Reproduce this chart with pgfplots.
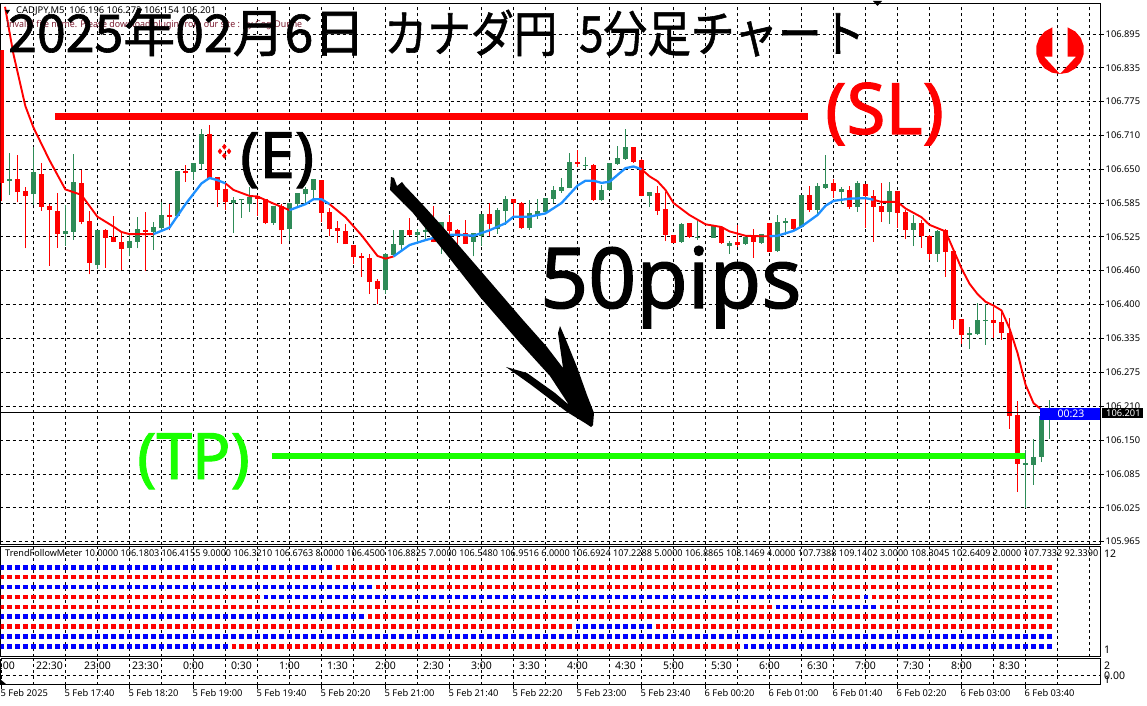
\documentclass[border=0pt]{standalone}
\usepackage{fontspec}
\setmainfont{Noto Sans}
\newfontfamily\cjk[FakeBold=1.2]{Noto Sans CJK JP}
\newfontfamily\bigf[FakeBold=1.5]{Noto Sans}
\usepackage{pgfplots}
\usepackage{pgfplotstable}
\pgfplotsset{compat=1.18}
\definecolor{mtgreen}{HTML}{2E8B57}
\definecolor{mablue}{HTML}{1E90FF}
\definecolor{tpgreen}{HTML}{19FF00}
\newcommand{\sm}{\fontsize{9.3}{11}\selectfont}
\newcommand{\md}{\fontsize{10.5}{12}\selectfont}
\pgfplotstableread{
n o h l c
0 106.866 106.866 106.589 106.621
2 106.629 106.673 106.586 106.605
3 106.607 106.615 106.502 106.598
5 106.638 106.658 106.571 106.578
6 106.579 106.583 106.470 106.573
7 106.570 106.603 106.503 106.529
10 106.622 106.645 106.546 106.551
11 106.552 106.570 106.454 106.475
13 106.535 106.537 106.466 106.521
14 106.523 106.561 106.513 106.514
15 106.513 106.532 106.463 106.501
18 106.535 106.568 106.460 106.532
21 106.563 106.583 106.535 106.560
23 106.644 106.655 106.624 106.641
26 106.711 106.728 106.629 106.631
27 106.633 106.633 106.578 106.609
28 106.611 106.621 106.573 106.587
32 106.598 106.600 106.561 106.592
33 106.592 106.592 106.546 106.548
35 106.579 106.584 106.510 106.535
40 106.627 106.627 106.551 106.567
41 106.568 106.575 106.524 106.537
42 106.539 106.552 106.512 106.534
43 106.534 106.546 106.509 106.509
44 106.508 106.508 106.474 106.486
45 106.488 106.494 106.450 106.484
46 106.484 106.491 106.418 106.440
47 106.442 106.446 106.400 106.427
51 106.536 106.558 106.525 106.527
54 106.519 106.580 106.513 106.514
56 106.551 106.563 106.519 106.534
57 106.536 106.537 106.504 106.529
58 106.530 106.554 106.510 106.510
61 106.565 106.585 106.524 106.547
64 106.593 106.593 106.560 106.585
65 106.585 106.587 106.537 106.539
72 106.661 106.683 106.651 106.657
74 106.655 106.657 106.589 106.591
79 106.688 106.688 106.659 106.661
80 106.664 106.666 106.597 106.598
82 106.604 106.617 106.563 106.571
83 106.574 106.606 106.515 106.527
84 106.527 106.527 106.512 106.512
86 106.549 106.549 106.520 106.523
90 106.541 106.543 106.510 106.512
92 106.514 106.545 106.505 106.508
94 106.527 106.538 106.485 106.514
96 106.549 106.549 106.496 106.496
99 106.556 106.556 106.536 106.537
101 106.600 106.616 106.569 106.572
104 106.622 106.630 106.594 106.607
106 106.609 106.616 106.574 106.578
108 106.620 106.620 106.539 106.598
109 106.598 106.609 106.514 106.578
110 106.580 106.622 106.550 106.569
112 106.607 106.607 106.540 106.567
113 106.569 106.572 106.519 106.536
115 106.549 106.554 106.503 106.525
116 106.525 106.526 106.481 106.492
118 106.536 106.537 106.450 106.496
119 106.497 106.497 106.354 106.371
120 106.372 106.372 106.327 106.343
124 106.371 106.395 106.338 106.365
125 106.367 106.388 106.334 106.347
126 106.347 106.374 106.171 106.195
127 106.197 106.222 106.055 106.107
}\redtab
\pgfplotstableread{
n o h l c
1 106.626 106.676 106.600 106.629
4 106.601 106.688 106.581 106.642
8 106.529 106.581 106.507 106.534
9 106.532 106.675 106.518 106.623
12 106.471 106.535 106.464 106.535
16 106.502 106.529 106.487 106.515
17 106.514 106.559 106.502 106.537
19 106.532 106.550 106.499 106.541
20 106.539 106.587 106.535 106.563
22 106.562 106.644 106.560 106.644
24 106.642 106.658 106.628 106.658
25 106.657 106.720 106.647 106.711
29 106.585 106.596 106.530 106.590
30 106.590 106.593 106.558 106.592
31 106.583 106.615 106.569 106.596
34 106.548 106.579 106.545 106.579
36 106.537 106.585 106.516 106.585
37 106.583 106.603 106.580 106.603
38 106.601 106.615 106.583 106.611
39 106.609 106.630 106.590 106.629
48 106.425 106.493 106.419 106.491
49 106.490 106.535 106.487 106.510
50 106.508 106.536 106.496 106.536
52 106.527 106.538 106.511 106.532
53 106.532 106.542 106.516 106.536
55 106.513 106.551 106.492 106.551
59 106.514 106.530 106.487 106.530
60 106.525 106.565 106.507 106.565
62 106.538 106.575 106.529 106.573
63 106.571 106.598 106.545 106.593
66 106.540 106.591 106.536 106.567
67 106.563 106.593 106.556 106.571
68 106.569 106.595 106.567 106.595
69 106.593 106.617 106.585 106.609
70 106.608 106.631 106.604 106.615
71 106.613 106.677 106.612 106.661
73 106.653 106.670 106.647 106.655
75 106.590 106.619 106.588 106.609
76 106.609 106.659 106.608 106.659
77 106.657 106.689 106.655 106.668
78 106.666 106.721 106.664 106.688
81 106.598 106.606 106.577 106.606
85 106.514 106.548 106.512 106.547
87 106.520 106.552 106.518 106.523
89 106.521 106.545 106.521 106.543
91 106.507 106.516 106.492 106.512
93 106.510 106.527 106.508 106.523
95 106.512 106.529 106.510 106.529
97 106.497 106.563 106.496 106.550
98 106.549 106.557 106.526 106.552
100 106.541 106.600 106.539 106.600
102 106.572 106.621 106.563 106.616
103 106.613 106.673 106.611 106.620
105 106.605 106.614 106.583 106.610
107 106.578 106.625 106.569 106.622
111 106.569 106.623 106.547 106.607
114 106.536 106.563 106.506 106.549
117 106.492 106.536 106.477 106.534
121 106.343 106.358 106.317 106.347
122 106.345 106.401 106.343 106.371
123 106.369 106.400 106.325 106.371
128 106.105 106.132 106.025 106.109
129 106.105 106.153 106.068 106.120
130 106.120 106.195 106.110 106.195
131 106.196 106.224 106.153 106.201
}\greentab
\pgfplotstableread{
n v t
0 18.5 22:00
6 18.5 22:30
12 18.5 23:00
18 18.5 23:30
24 18.5 0:00
30 18.5 0:30
36 18.5 1:00
42 18.5 1:30
48 18.5 2:00
54 18.5 2:30
60 18.5 3:00
66 18.5 3:30
72 18.5 4:00
78 18.5 4:30
84 18.5 5:00
90 18.5 5:30
96 18.5 6:00
102 18.5 6:30
108 18.5 7:00
114 18.5 7:30
120 18.5 8:00
126 18.5 8:30
}\hourtab
\pgfplotsset{mtgrid/.style={
  grid style={black,line width=1pt,dash pattern=on 3pt off 3pt},
  axis line style={black,line width=1pt},
  xmin=-0.125,xmax=137.375,
  scale only axis,width=1100pt,anchor=south west,
}}
\newcommand{\wicks}[2]{%
  \addplot[draw=none,mark=none,forget plot,error bars/.cd,y dir=plus,y explicit,error mark=none,
    error bar style={#2,line width=1pt}]
    table[x=n,y=l,y error plus expr=\thisrow{h}-\thisrow{l}]{#1};}
\begin{document}
\begin{tikzpicture}
\path[use as bounding box,fill=white] (0,0) rectangle (1147pt,705pt);
% main price panel
\begin{axis}[mtgrid,at={(0.5pt,160.5pt)},height=541pt,
  ymin=105.9587,ymax=106.9510,
  xtick={4,8,...,136},xticklabels={},
  ytick={106.895,106.833,106.771,106.709,106.647,106.585,106.523,106.461,106.399,106.337,106.275,106.212,106.150,106.088,106.026,105.964},
  yticklabels={106.895,106.835,106.775,106.710,106.650,106.585,106.525,106.460,106.400,106.335,106.275,106.210,106.150,106.085,106.025,105.965},
  grid=major,mtgrid,
  yticklabel pos=right,tick align=outside,
  major tick length=3pt,
  major x tick style={draw=none},
  y tick style={black,line width=1pt},
  yticklabel style={font=\sm,inner sep=0pt,xshift=2pt},
]
\wicks{\redtab}{red}
\wicks{\greentab}{mtgreen}
\addplot[draw=none,mark=none,forget plot,error bars/.cd,y dir=plus,y explicit,error mark=none,
  error bar style={red,line width=5pt}]
  table[x=n,y=c,y error plus expr=\thisrow{o}-\thisrow{c}]{\redtab};
\addplot[draw=none,mark=none,forget plot,error bars/.cd,y dir=plus,y explicit,error mark=none,
  error bar style={mtgreen,line width=5pt}]
  table[x=n,y=o,y error plus expr=\thisrow{c}-\thisrow{o}]{\greentab};
% moving average, red while falling, blue while rising
\addplot[red,line width=1.9pt,unbounded coords=jump] coordinates {
(0.44,106.945)(1.48,106.859)(2.98,106.763)(3.98,106.724)(5.98,106.664)(7.98,106.610)(9.98,106.600)(11.98,106.560)(13.98,106.542)(14.98,106.532)(15.98,106.528)(19,106.528)(19,nan)
(28,106.621)(29,106.609)(31,106.598)(32,106.597)(34,106.584)(36,106.572)(36,nan)
(41,106.583)(43,106.559)(45,106.526)(47,106.488)(48,106.483)(49,106.487)(49,nan)
(80,106.647)(81,106.634)(82,106.625)(83,106.609)(84,106.585)(86,106.563)(88,106.546)(90,106.541)(91,106.533)(93,106.525)(95,106.524)(96,106.524)(96,nan)
(109,106.591)(110,106.587)(112,106.587)(113,106.575)(115,106.559)(116,106.545)(118,106.533)(119,106.499)(120,106.465)(121,106.437)(122,106.418)(123,106.404)(124,106.397)(125,106.388)(126,106.355)(127,106.310)(128,106.252)(129,106.218)(130,106.206)
};
\addplot[mablue,line width=2.3pt,unbounded coords=jump] coordinates {
(19,106.528)(21,106.540)(23,106.583)(25,106.621)(26,106.631)(27,106.627)(28,106.621)(28,nan)
(36,106.572)(38,106.583)(39,106.592)(40,106.592)(41,106.583)(41,nan)
(49,106.487)(51,106.508)(53,106.517)(54,106.521)(55,106.526)(57,106.527)(59,106.525)(61,106.535)(63,106.548)(64,106.560)(66,106.560)(68,106.566)(70,106.585)(72,106.617)(73,106.626)(74,106.626)(75,106.622)(76,106.624)(78,106.649)(79,106.652)(80,106.647)(80,nan)
(96,106.524)(97,106.525)(99,106.534)(100,106.542)(102,106.563)(103,106.580)(104,106.589)(106,106.593)(108,106.594)(109,106.591)
};
% current bid line
\addplot[black,line width=1pt] coordinates {(-0.125,106.201)(137.375,106.201)};
% stop loss and take profit lines
\addplot[red,line width=7pt] coordinates {(6.69,106.7446)(100.8,106.7446)};
\addplot[tpgreen,line width=6.5pt] coordinates {(33.8,106.121)(127.9,106.121)};
% entry marker
\addplot[only marks,mark=diamond*,mark size=2.6pt,red] coordinates {(27.85,106.6883)(27.31,106.6799)(28.44,106.6799)(27.85,106.6718)};
\end{axis}
% indicator panel
\begin{axis}[mtgrid,at={(0.5pt,48.5pt)},height=110pt,
  ymin=0.967,ymax=12.106,
  xtick={4,8,...,136},xticklabels={},ytick=\empty,
  xmajorgrids,major x tick style={draw=none},
  unbounded coords=jump,
]
\addplot[red,line width=4.5pt,dash pattern=on 4.5pt off 3.5pt,dash phase=0.25pt] coordinates {
(41.75,10)(131.3125,10)(0,nan)
(-0.25,9)(131.3125,9)(0,nan)
(46.75,8)(131.3125,8)(0,nan)
(-0.25,7)(32.3125,7)(0,nan)(103.75,7)(107.3125,7)(0,nan)(108.75,7)(131.3125,7)(0,nan)
(-0.25,6)(96.3125,6)(0,nan)(109.75,6)(131.3125,6)(0,nan)
(45.75,5)(131.3125,5)(0,nan)
(-0.25,4)(71.3125,4)(0,nan)(81.75,4)(131.3125,4)(0,nan)
(28.75,2)(92.3125,2)
};
\addplot[blue,line width=4.5pt,dash pattern=on 4.5pt off 3.5pt,dash phase=0.25pt] coordinates {
(-0.25,10)(41.3125,10)(0,nan)
(-0.25,8)(46.3125,8)(0,nan)
(32.75,7)(103.3125,7)(0,nan)(107.75,7)(108.3125,7)(0,nan)
(96.75,6)(109.3125,6)(0,nan)
(-0.25,5)(45.3125,5)(0,nan)
(71.75,4)(81.3125,4)(0,nan)
(-0.25,3)(131.3125,3)(0,nan)
(-0.25,2)(28.3125,2)(0,nan)(92.75,2)(131.3125,2)
};
\end{axis}
% time strip
\begin{axis}[mtgrid,at={(0.5pt,20.5pt)},height=26pt,
  ymin=0,ymax=26,ytick={9.5},yticklabels={},
  ymajorgrids,
  xtick={0,8,...,128},
  minor xtick={4,12,...,136},
  xmajorgrids,xminorgrids,minor grid style={black,line width=1pt,dash pattern=on 3pt off 3pt},
  xticklabels={5 Feb 2025,5 Feb 17:40,5 Feb 18:20,5 Feb 19:00,5 Feb 19:40,5 Feb 20:20,5 Feb 21:00,5 Feb 21:40,5 Feb 22:20,5 Feb 23:00,5 Feb 23:40,6 Feb 00:20,6 Feb 01:00,6 Feb 01:40,6 Feb 02:20,6 Feb 03:00,6 Feb 03:40},
  xticklabel style={font=\sm,anchor=north west,inner sep=0pt,xshift=-1pt,yshift=-1pt},
  tick align=outside,major tick length=4pt,minor tick length=0pt,
  x tick style={black,line width=1pt},
  major y tick style={draw=none},
  axis x line*=bottom,
  clip=false,
]
\addplot[draw=none,mark=none,nodes near coords,point meta=explicit symbolic,
  nodes near coords style={anchor=center,font=\md,inner sep=0pt,yshift=0pt}]
  table[x=n,y=v,meta=t]{\hourtab};
\end{axis}
% frames of the strip
\draw[black,line width=1pt] (0.5pt,46.5pt) -- (1100.5pt,46.5pt) (0.5pt,46.5pt)--(0.5pt,20.5pt) (1100.5pt,46.5pt)--(1100.5pt,20.5pt);
\begin{scope}[shift={(0,705pt)},x=1pt,y=-1pt]
% small chart annotations
\fill (5,10) -- (10,10) -- (7.5,14) -- cycle;
\fill (873,1) -- (882,1) -- (877.5,6) -- cycle;
\fill (0,679) -- (6,684) -- (0,684) -- cycle;
\node[anchor=west,inner sep=0pt,font=\sm] at (16,11.5) {\resizebox{200pt}{\height}{CADJPY,M5\ \ 106.196 106.272 106.154 106.201}};
\node[anchor=west,inner sep=0pt,font=\sm,text={rgb,255:red,125;green,30;blue,50}] at (6,25) {\resizebox{296pt}{\height}{Invalid file name. Please download plugin from our site : by Cog-Dunne}};
\node[anchor=west,inner sep=0pt,font=\sm] at (5,553.5) {\resizebox{1093pt}{\height}{TrendFollowMeter 10.0000 106.1803 106.4155 9.0000 106.3210 106.6763 8.0000 106.4500 106.8825 7.0000 106.5480 106.9516 6.0000 106.6924 107.2288 5.0000 106.8865 108.1469 4.0000 107.7388 109.1402 3.0000 108.3045 102.6409 2.0000 107.7332 92.3390}};
\node[anchor=west,inner sep=0pt,font=\md] at (1104,554) {12};
\node[anchor=west,inner sep=0pt,font=\md] at (1104,649.5) {1};
\node[anchor=west,inner sep=0pt,font=\md] at (1104,665.5) {2};
\node[anchor=west,inner sep=0pt,font=\md] at (1104,675.5) {0.00};
\node[anchor=west,inner sep=0pt,font=\md] at (1104,679.5) {1};
% bid and timer boxes
\fill[blue] (1040,407.5) rectangle (1100,419.5);
\node[white,font=\md,inner sep=0pt] at (1071,413.5) {00:23};
\fill[black] (1101.5,408) rectangle (1143,417.5);
\node[white,anchor=west,font=\sm,inner sep=0pt] at (1106,412.8) {106.201};
% hand drawn arrow
\fill[black] (391,177) -- (394,178) -- (397,186) -- (402,182) -- (405,186) -- (423,205) -- (442,226) -- (480,270) -- (523,320) -- (547,347) -- (563,368) -- (558,333) -- (560,326) -- (566,340) -- (577,367) -- (587,395) -- (594,413) -- (593,425) -- (591,427) -- (585,423) -- (567,412) -- (530,384) -- (506,367) -- (527,373) -- (555,393) -- (569,405) -- (550,376) -- (520,343) -- (480,297) -- (443,250) -- (413,213) -- (390,190) -- cycle;
% logo
\fill[red] (1060,74) -- (1051.8,72.6) -- (1044.6,68.4) -- (1039.2,62) -- (1036.4,54.2) -- (1036.4,45.8) -- (1039.2,38) -- (1044.6,31.6) -- (1052.3,27.4) -- (1052.3,56.7) -- (1044,56.7) -- cycle;
\fill[red] (1060,74) -- (1068.2,72.6) -- (1075.4,68.4) -- (1080.8,62) -- (1083.6,54.2) -- (1083.6,45.8) -- (1080.8,38) -- (1075.4,31.6) -- (1067.7,27.4) -- (1067.7,56.7) -- (1076,56.7) -- cycle;
% big labels
\node[anchor=base west,inner sep=0pt] at (8,52) {\resizebox{357pt}{\height}{\cjk\fontsize{52}{54}\selectfont 2025年02月6日}};
\node[anchor=base west,inner sep=0pt] at (384,52) {\resizebox{173pt}{\height}{\cjk\fontsize{50}{54}\selectfont カナダ円}};
\node[anchor=base west,inner sep=0pt] at (579,52) {\resizebox{286pt}{\height}{\cjk\fontsize{50}{54}\selectfont 5分足チャート}};
\node[anchor=base west,inner sep=0pt,red] at (825,134) {\bigf\fontsize{71}{75}\selectfont (SL)};
\node[anchor=base west,inner sep=0pt] at (240,178) {\bigf\fontsize{64}{70}\selectfont (E)};
\node[anchor=base west,inner sep=0pt,tpgreen] at (137,479) {\bigf\fontsize{64}{70}\selectfont (TP)};
\node[anchor=base west,inner sep=0pt] at (540,308) {\bigf\fontsize{84}{90}\selectfont 50pips};
\end{scope}
\end{tikzpicture}
\end{document}
